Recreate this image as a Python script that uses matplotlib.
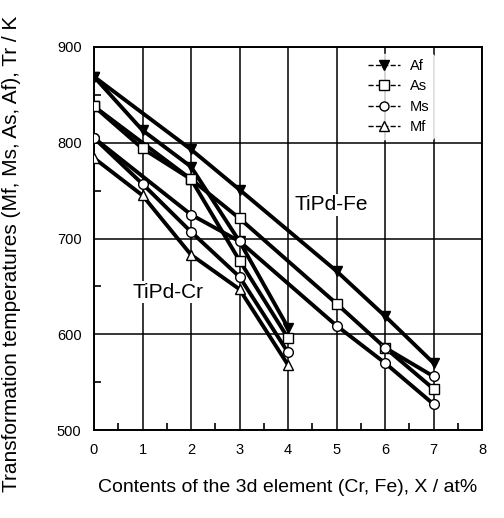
import matplotlib
matplotlib.use("Agg")
import matplotlib.pyplot as plt
from matplotlib.lines import Line2D

plt.rcParams['font.family'] = ['Liberation Sans', 'DejaVu Sans']

# TiPd-Cr series
cr_x = [0, 1, 2, 3, 4]
cr_af = [869, 813, 775, 697, 607]
cr_as = [838, 794, 762, 677, 596]
cr_ms = [805, 757, 707, 660, 581]
cr_mf = [784, 745, 683, 647, 568]

# TiPd-Fe series
fe_x = [0, 2, 3, 5, 6, 7]
fe_af = [869, 793, 751, 666, 619, 570]
fe_as = [838, 762, 721, 632, 586, 543]
fe_ms = [805, 725, 697, 609, 570, 527]
fe_mf_x = [6, 7]
fe_mf = [586, 556]

labels = ["Af", "As", "Ms", "Mf"]
markers = ["v", "s", "o", "^"]

fig = plt.figure(figsize=(5.04, 5.18), dpi=100)
ax = fig.add_axes([94/504, 1-430/518, (482-94)/504, (430-47)/518])

ax.set_xlim(0, 8)
ax.set_ylim(500, 900)
ax.set_xticks(range(0, 9))
ax.set_yticks([500, 600, 700, 800, 900])
ax.set_xticks([i + 0.5 for i in range(8)], minor=True)
ax.set_yticks([550, 650, 750, 850], minor=True)
ax.tick_params(which='both', direction='in', length=5, width=1.2, labelsize=10.5)
ax.tick_params(which='major', length=0, pad=9)
ax.grid(True, which='major', color='black', linewidth=1.1)
for s in ax.spines.values():
    s.set_linewidth(1.4)

def draw(x, y, m):
    ax.plot(x, y, color='black', linewidth=2.8, zorder=3)
    ax.plot(x, y, linestyle='none', marker=m, markersize=7,
            markerfacecolor='black' if m == 'v' else 'white',
            markeredgecolor='black', markeredgewidth=1.0, zorder=4)

for ys, m in zip([cr_af, cr_as, cr_ms, cr_mf], markers):
    draw(cr_x, ys, m)
for ys, m in zip([fe_af, fe_as, fe_ms], markers[:3]):
    draw(fe_x, ys, m)
draw(fe_mf_x, fe_mf, 'o')

handles = [Line2D([], [], color='black', linestyle='--', linewidth=1.0, marker=m,
                  markersize=6.5, markerfacecolor='black' if m == 'v' else 'white',
                  markeredgecolor='black') for m in markers]
leg = ax.legend(handles, labels, loc='upper left', bbox_to_anchor=(0.675, 1.0),
                frameon=True, fontsize=10.5, handlelength=2.2, labelspacing=0.45,
                borderpad=0.3, handletextpad=0.7)
leg.get_frame().set_facecolor('white')
leg.get_frame().set_edgecolor('white')
leg.set_zorder(5)

ax.text(4.14, 735, "TiPd-Fe", fontsize=15, va='center', ha='left', zorder=6,
        bbox=dict(facecolor='white', edgecolor='none', pad=1))
ax.text(0.80, 644, "TiPd-Cr", fontsize=15, va='center', ha='left', zorder=6,
        bbox=dict(facecolor='white', edgecolor='none', pad=1))

fig.text(12/504, 1-254/518, "Transformation temperatures (Mf, Ms, As, Af), Tr / K",
         rotation=90, ha='center', va='center', fontsize=15)
fig.text(288/504, 1-487/518, "Contents of the 3d element (Cr, Fe), X / at%",
         ha='center', va='center', fontsize=14)

fig.savefig("out.png", dpi=100)
